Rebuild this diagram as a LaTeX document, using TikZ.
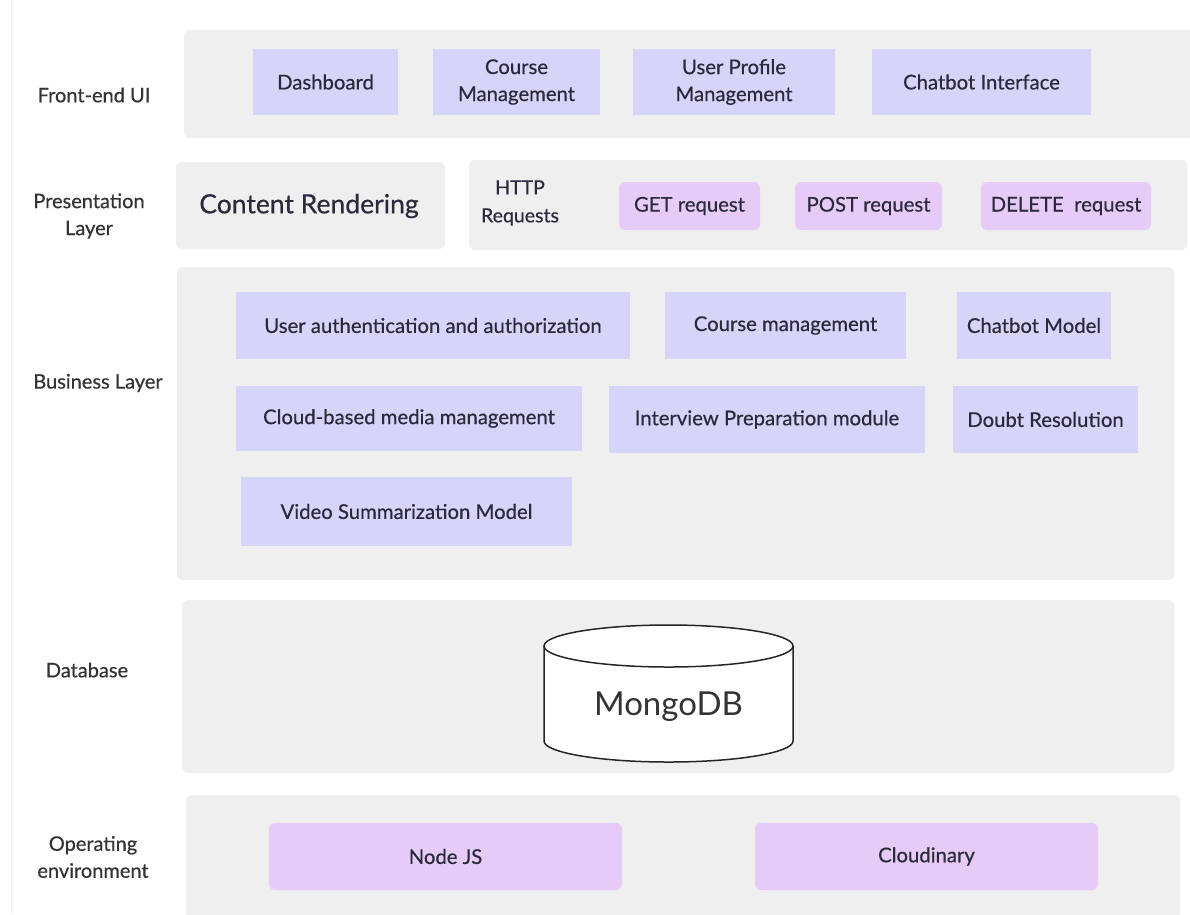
\documentclass[tikz,border=0pt]{standalone}
\usepackage{fontspec}
\setmainfont{Lato}
\newfontfamily\medfont[FakeBold=0.5]{Lato}
\definecolor{bandgray}{HTML}{EFEFEF}
\definecolor{lav}{HTML}{D6D5F9}
\definecolor{pur}{HTML}{E7CBF7}
\definecolor{ink}{HTML}{2A2A3C}
\definecolor{lbl}{HTML}{333333}
\definecolor{faint}{HTML}{F1F1F1}
\begin{document}
\begin{tikzpicture}[x=1pt,y=-1pt,
  band/.style={fill=bandgray, rounded corners=6pt},
  lavbox/.style={fill=lav, text=ink, align=center, inner sep=0pt,
    font=\medfont\fontsize{20.3}{27}\selectfont},
  purbox/.style={fill=pur, rounded corners=6pt, text=ink, align=center, inner sep=0pt,
    font=\medfont\fontsize{20.3}{27}\selectfont},
  lefttext/.style={text=lbl, align=center, inner sep=0pt,
    font=\medfont\fontsize{20}{27}\selectfont},
  plain/.style={text=ink, align=center, inner sep=0pt,
    font=\medfont\fontsize{19.5}{28}\selectfont}
]
\useasboundingbox (0,0) rectangle (1190,914);
\fill[white] (0,0) rectangle (1190,914);
\draw[faint, line width=1pt] (11,0) -- (11,914);

% bands
\fill[band] (184,30) rectangle (1200,138);
\fill[band] (176,162) rectangle (445,249);
\fill[band] (469,160) rectangle (1187,250);
\fill[band] (177,267) rectangle (1174,580);
\fill[band] (182,600) rectangle (1174,773);
\fill[band] (186,795) rectangle (1180,930);

% left labels
\node[lefttext] (lfront) at (94,95) {Front-end UI};
\node[lefttext] (lpres) at (89,216) {Presentation\\Layer};
\node[lefttext] (lbus) at (98,383) {Business Layer};
\node[lefttext] (ldb) at (87,670) {Database};
\node[lefttext] (lop) at (93,857) {Operating\\environment};

% front-end UI
\node[lavbox, minimum width=145pt, minimum height=66pt] (dash) at (325.5,82) {Dashboard};
\node[lavbox, minimum width=167pt, minimum height=66pt] (cmgmt) at (516.5,82) {Course\\Management};
\node[lavbox, minimum width=202pt, minimum height=66pt] (upm) at (734,82) {User Profile\\Management};
\node[lavbox, minimum width=219pt, minimum height=66pt] (chati) at (981.5,82) {Chatbot Interface};

% presentation layer
\node[plain, font=\medfont\fontsize{26.5}{30}\selectfont] (render) at (309,206) {Content Rendering};
\node[plain] (http) at (520,203) {HTTP\\Requests};
\node[purbox, minimum width=141pt, minimum height=48pt] (get) at (689.5,206) {GET request};
\node[purbox, minimum width=147pt, minimum height=48pt] (post) at (868.5,206) {POST request};
\node[purbox, minimum width=170pt, minimum height=48pt] (del) at (1066,206) {DELETE\ \ request};

% business layer
\node[lavbox, minimum width=394pt, minimum height=67pt] (auth) at (433,325.5) {User authentication and authorization};
\node[lavbox, minimum width=241pt, minimum height=67pt] (cm) at (785.5,325.5) {Course management};
\node[lavbox, minimum width=154pt, minimum height=67pt] (cbm) at (1034,325.5) {Chatbot Model};
\node[lavbox, minimum width=346pt, minimum height=65pt] (cloud) at (409,418.5) {Cloud-based media management};
\node[lavbox, minimum width=316pt, minimum height=67pt] (ipm) at (767,419.5) {Interview Preparation module};
\node[lavbox, minimum width=185pt, minimum height=67pt] (doubt) at (1045.5,419.5) {Doubt Resolution};
\node[lavbox, minimum width=331pt, minimum height=69pt] (vsm) at (406.5,511.5) {Video Summarization Model};

% database cylinder
\fill[white] (544,646) -- (544,741) arc[start angle=180, end angle=360, x radius=124.5pt, y radius=21pt] -- (793,646) -- cycle;
\draw[line width=1.5pt, black!85] (544,646) -- (544,741) arc[start angle=180, end angle=360, x radius=124.5pt, y radius=21pt] -- (793,646);
\draw[line width=1.5pt, black!85, fill=white] (668.5,646) ellipse[x radius=124.5pt, y radius=21pt];
\node[text=black!80, inner sep=0pt, font=\fontsize{33}{38}\selectfont] (mongo) at (668.5,707) {MongoDB};

% operating environment
\node[purbox, minimum width=353pt, minimum height=67pt] (node) at (445.5,856.5) {Node JS};
\node[purbox, minimum width=343pt, minimum height=67pt] (cloudinary) at (926.5,856.5) {Cloudinary};
\end{tikzpicture}
\end{document}
